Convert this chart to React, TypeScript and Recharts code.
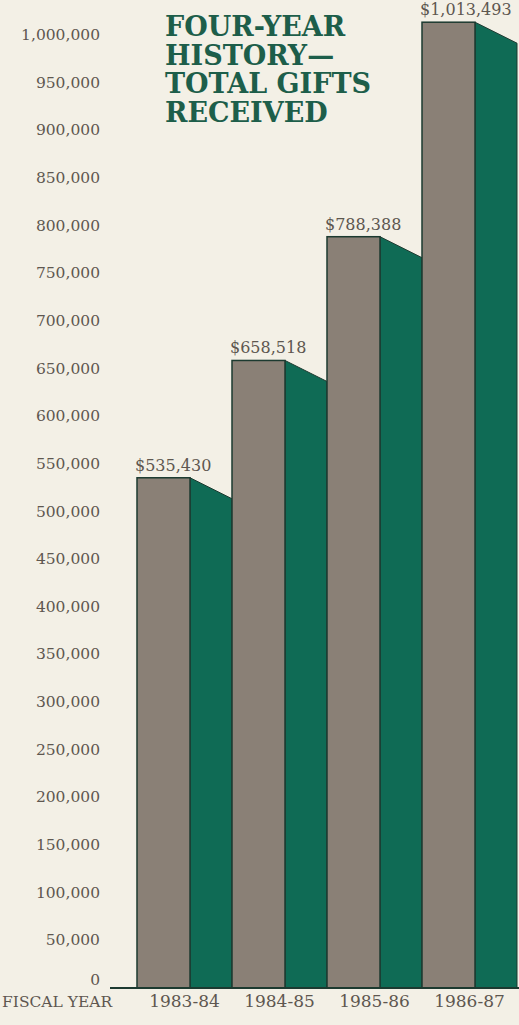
import * as React from 'react';
import { BarChart, Bar, XAxis, YAxis, LabelList } from 'recharts';

const fiscalYears = ['1983-84', '1984-85', '1985-86', '1986-87'];
const totalGifts = [535430, 658518, 788388, 1013493];
const yTicks = [
  0, 50000, 100000, 150000, 200000, 250000, 300000, 350000, 400000, 450000, 500000,
  550000, 600000, 650000, 700000, 750000, 800000, 850000, 900000, 950000, 1000000,
];
const titleLines = ['FOUR-YEAR', 'HISTORY—', 'TOTAL GIFTS', 'RECEIVED'];

const data = fiscalYears.map((year, i) => ({ year, gifts: totalGifts[i] }));

const GRAY = '#8a8076';
const GREEN = '#0f6b55';
const EDGE = '#1c3a30';
const TEXT = '#5e5750';
const BG = '#f3f0e6';
const FONT = '"DejaVu Serif", serif';

// front face in gray, the side face in green with a slanted top
const BoxBar = (props: any) => {
  const { x, y, width, height } = props;
  const front = (width * 53) / 95;
  const drop = 21;
  const sx = x + front;
  const bottom = y + height;
  return (
    <g>
      <polygon
        points={`${sx},${y} ${x + width},${y + drop} ${x + width},${bottom} ${sx},${bottom}`}
        fill={GREEN}
        stroke={EDGE}
        strokeWidth={1}
      />
      <rect x={x} y={y} width={front} height={height} fill={GRAY} stroke={EDGE} strokeWidth={1.5} />
    </g>
  );
};

const ValueLabel = (props: any) => {
  const { x, y, value } = props;
  return (
    <text x={x - 2} y={y - 7} fill={TEXT} fontSize={16} fontFamily={FONT} textAnchor="start">
      {'$' + Number(value).toLocaleString('en-US')}
    </text>
  );
};

// the zero label sits a little above the base line in the original
const YTick = (props: any) => {
  const { x, y, payload } = props;
  const v = payload.value as number;
  return (
    <text x={x} y={y} dy={v === 0 ? -3 : 5} fill={TEXT} fontSize={15.5} fontFamily={FONT} textAnchor="end">
      {v.toLocaleString('en-US')}
    </text>
  );
};

export default function App() {
  return (
    <div style={{ position: 'absolute', left: 0, top: 0, width: 519, height: 1025, background: BG }}>
      <BarChart
        width={519}
        height={1025}
        data={data}
        margin={{ top: 16, right: 0, bottom: 7, left: 0 }}
        barCategoryGap={0}
        barGap={0}
      >
        <XAxis
          dataKey="year"
          padding={{ left: 27, right: 2 }}
          height={30}
          tickLine={false}
          tickSize={0}
          tickMargin={7}
          axisLine={{ stroke: EDGE, strokeWidth: 2 }}
          tick={{ fill: TEXT, fontSize: 17, fontFamily: FONT }}
          interval={0}
        />
        <YAxis
          width={110}
          domain={[0, 1020000]}
          ticks={yTicks}
          interval={0}
          tickLine={false}
          tickSize={0}
          tickMargin={10}
          axisLine={false}
          tick={<YTick />}
        />
        <Bar dataKey="gifts" shape={<BoxBar />} isAnimationActive={false}>
          <LabelList dataKey="gifts" content={<ValueLabel />} />
        </Bar>
      </BarChart>
      <div
        style={{
          position: 'absolute',
          left: 165,
          top: 13,
          fontFamily: FONT,
          fontWeight: 'bold',
          fontSize: 27,
          lineHeight: '28.5px',
          color: '#1d5e4a',
          whiteSpace: 'nowrap',
        }}
      >
        {titleLines.map((line) => (
          <div key={line}>{line}</div>
        ))}
      </div>
      <div
        style={{
          position: 'absolute',
          left: 2,
          top: 993,
          fontFamily: FONT,
          fontSize: 15.5,
          color: TEXT,
          whiteSpace: 'nowrap',
        }}
      >
        FISCAL YEAR
      </div>
    </div>
  );
}
